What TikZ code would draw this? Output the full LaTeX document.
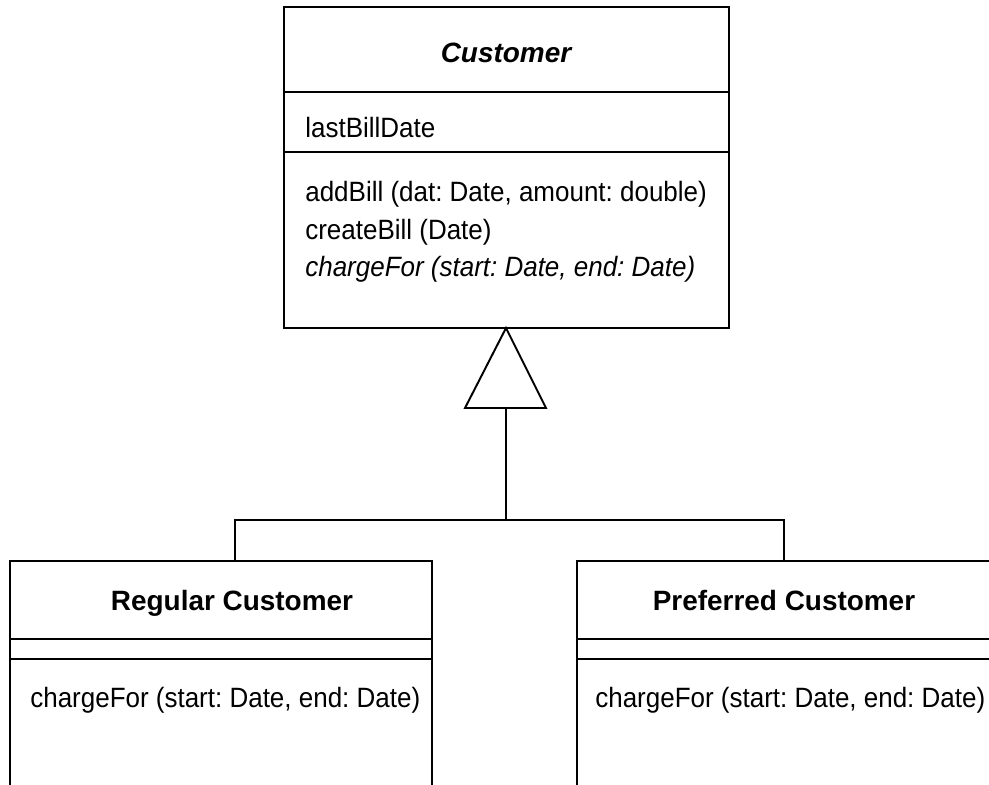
\documentclass[tikz,border=0pt]{standalone}
\usepackage{fontspec}
\usepackage{tikz}
\newfontfamily\umltext[FakeStretch=0.93]{Liberation Sans}
\newfontfamily\umlhead{Liberation Sans}
\frenchspacing
\tikzset{
  classline/.style={line width=1.1pt},
  headlabel/.style={anchor=base,inner sep=0pt,font=\umlhead\fontsize{15.9pt}{19pt}\selectfont\bfseries},
  memberlabel/.style={anchor=base west,inner sep=0pt,font=\umltext\fontsize{15.9pt}{19pt}\selectfont},
}

\begin{document}
\begin{tikzpicture}[x=0.02cm,y=-0.02cm]
\path[use as bounding box] (0,0) rectangle (989,784);
\draw[classline] (284,7) rectangle (729,328);
\draw[classline] (284,92) -- (729,92);
\draw[classline] (284,152) -- (729,152);
\node[headlabel] (custName) at (506,63) {\itshape Customer};
\node[memberlabel] (custAttr) at (305,137) {lastBillDate};
\node[memberlabel] (custAddBill) at (305,201) {addBill (dat: Date, amount: double)};
\node[memberlabel] (custCreateBill) at (305,239) {createBill (Date)};
\node[memberlabel] (custChargeFor) at (305,276) {\itshape chargeFor (start: Date, end: Date)};
\coordinate (custBase) at (506,328);
\coordinate (genBase) at (506,408);
\coordinate (joint) at (506,520);
\coordinate (regTop) at (235,561);
\coordinate (prefTop) at (784,561);
\draw[classline,line join=miter] (custBase) -- (465,408) -- (546,408) -- cycle;
\draw[classline] (genBase) -- (joint);
\draw[classline] (regTop) |- (joint) -| (prefTop);
\draw[classline] (10,785) -- (10,561) -- (432,561) -- (432,785);
\draw[classline] (10,639) -- (432,639);
\draw[classline] (10,659) -- (432,659);
\node[headlabel] (regName) at (232,610) {Regular Customer};
\node[memberlabel] (regChargeFor) at (30,707) {chargeFor (start: Date, end: Date)};
\draw[classline] (577,785) -- (577,561) -- (991,561);
\draw[classline] (577,639) -- (991,639);
\draw[classline] (577,659) -- (991,659);
\node[headlabel] (prefName) at (784,610) {Preferred Customer};
\node[memberlabel] (prefChargeFor) at (595,707) {chargeFor (start: Date, end: Date)};
\end{tikzpicture}
\end{document}
